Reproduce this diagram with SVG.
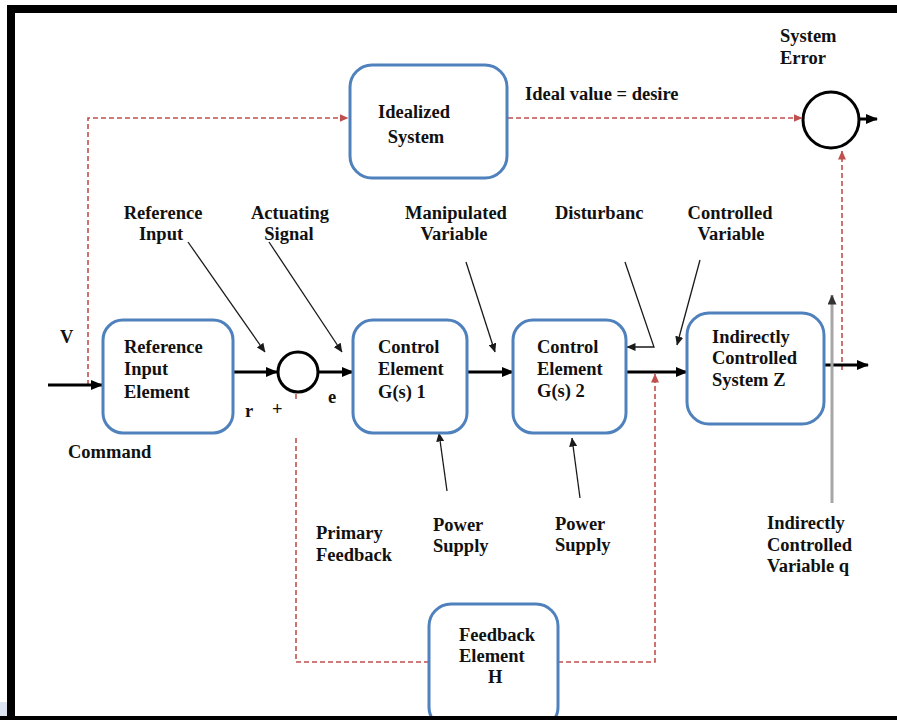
<svg xmlns="http://www.w3.org/2000/svg" width="897" height="720" viewBox="0 0 897 720">
  <defs>
    <style>
      .box { fill: #ffffff; stroke: #4f81bd; stroke-width: 3; }
      .sum { fill: #ffffff; stroke: #000000; stroke-width: 3; }
      .main { fill: none; stroke: #000000; stroke-width: 3; }
      .thin { fill: none; stroke: #1a1a1a; stroke-width: 1.3; }
      .dash { fill: none; stroke: #c0504d; stroke-width: 1.6; stroke-dasharray: 5 3; }
      .grey { fill: none; stroke: #a6a6a6; stroke-width: 3; }
      text { font-weight: bold; font-size: 18.5px; fill: #111111; }
      .mid { text-anchor: middle; }
    </style>
    <marker id="ah" markerUnits="userSpaceOnUse" markerWidth="12" markerHeight="10" refX="11" refY="5" orient="auto">
      <path d="M0,0 L12,5 L0,10 Z" fill="#000000"/>
    </marker>
    <marker id="ahs" markerUnits="userSpaceOnUse" markerWidth="9" markerHeight="8" refX="8.5" refY="4" orient="auto">
      <path d="M0,0 L9,4 L0,8 Z" fill="#1a1a1a"/>
    </marker>
    <marker id="ahr" markerUnits="userSpaceOnUse" markerWidth="9" markerHeight="8" refX="8.5" refY="4" orient="auto">
      <path d="M0,0 L9,4 L0,8 Z" fill="#c0504d"/>
    </marker>
    <marker id="ahg" markerUnits="userSpaceOnUse" markerWidth="10" markerHeight="9" refX="9.5" refY="4.5" orient="auto">
      <path d="M0,0 L10,4.5 L0,9 Z" fill="#333333"/>
    </marker>
  </defs>

  <rect x="0" y="0" width="897" height="720" fill="#ffffff"/>
  <rect x="0" y="702" width="7" height="18" fill="#dce4f4"/>

  <!-- connectors -->
  <g id="connectors">
    <!-- dashed ideal-value path -->
    <path class="dash" d="M88,385 V118 H348" marker-end="url(#ahr)"/>
    <path class="dash" d="M508,118 H802" marker-end="url(#ahr)"/>
    <path class="dash" d="M842,370 V151" marker-end="url(#ahr)"/>
    <!-- primary feedback -->
    <path class="dash" d="M296,394 V399"/>
    <path class="dash" d="M296,438 V662 H429"/>
    <path class="dash" d="M558,662 H655 V374" marker-end="url(#ahr)"/>

    <!-- main forward path -->
    <path class="main" d="M48,385 H102" marker-end="url(#ah)"/>
    <path class="main" d="M233,372 H277" marker-end="url(#ah)"/>
    <path class="main" d="M319,372 H353" marker-end="url(#ah)"/>
    <path class="main" d="M467,372 H513" marker-end="url(#ah)"/>
    <path class="main" d="M626,372 H687" marker-end="url(#ah)"/>
    <path class="main" d="M824,365 H868" marker-end="url(#ah)"/>
    <path class="main" d="M859,119 H877" marker-end="url(#ah)"/>

    <!-- indirectly controlled variable -->
    <path class="grey" d="M832,503 V295" marker-end="url(#ahg)"/>

    <!-- label pointers -->
    <path class="thin" d="M188,242 L265,352" marker-end="url(#ahs)"/>
    <path class="thin" d="M269,242 L342,352" marker-end="url(#ahs)"/>
    <path class="thin" d="M466,262 L495,352" marker-end="url(#ahs)"/>
    <path class="thin" d="M625,262 L654,347 H627" marker-end="url(#ahs)"/>
    <path class="thin" d="M700,260 L677,345" marker-end="url(#ahs)"/>
    <path class="thin" d="M447,491 L439,433" marker-end="url(#ahs)"/>
    <path class="thin" d="M580,498 L572,438" marker-end="url(#ahs)"/>
  </g>

  <g font-family="'Liberation Serif', 'DejaVu Serif', serif">
  <!-- blocks -->
  <g id="idealized-system">
    <rect class="box" x="350" y="65" width="157" height="113" rx="22"/>
    <text x="414" y="118" class="mid">Idealized</text>
    <text x="416" y="143" class="mid">System</text>
  </g>
  <g id="system-error">
    <circle class="sum" cx="831" cy="120" r="28"/>
  </g>
  <g id="reference-input-element">
    <rect class="box" x="103" y="320" width="130" height="113" rx="20"/>
    <text x="124" y="353">Reference</text>
    <text x="124" y="375">Input</text>
    <text x="124" y="398">Element</text>
  </g>
  <g id="summing-point">
    <circle class="sum" cx="298" cy="372" r="20"/>
  </g>
  <g id="control-element-1">
    <rect class="box" x="353" y="320" width="114" height="113" rx="20"/>
    <text x="378" y="353">Control</text>
    <text x="378" y="375">Element</text>
    <text x="378" y="398">G(s) 1</text>
  </g>
  <g id="control-element-2">
    <rect class="box" x="513" y="320" width="113" height="113" rx="20"/>
    <text x="537" y="353">Control</text>
    <text x="537" y="375">Element</text>
    <text x="537" y="397">G(s) 2</text>
  </g>
  <g id="indirectly-controlled-system">
    <rect class="box" x="687" y="313" width="137" height="111" rx="22"/>
    <text x="712" y="343">Indirectly</text>
    <text x="712" y="364">Controlled</text>
    <text x="712" y="386">System Z</text>
  </g>
  <g id="feedback-element">
    <rect class="box" x="429" y="604" width="129" height="125" rx="22"/>
    <text x="459" y="641">Feedback</text>
    <text x="459" y="662">Element</text>
    <text x="488" y="683">H</text>
  </g>

  <!-- signal labels -->
  <g id="labels">
    <text x="525" y="100">Ideal value = desire</text>
    <text x="780" y="42">System</text>
    <text x="780" y="64">Error</text>
    <text x="163" y="219" class="mid">Reference</text>
    <text x="161" y="240" class="mid">Input</text>
    <text x="290" y="219" class="mid">Actuating</text>
    <text x="289" y="240" class="mid">Signal</text>
    <text x="456" y="219" class="mid">Manipulated</text>
    <text x="454" y="240" class="mid">Variable</text>
    <text x="555" y="219">Disturbanc</text>
    <text x="730" y="219" class="mid">Controlled</text>
    <text x="731" y="240" class="mid">Variable</text>
    <text x="60" y="343">V</text>
    <text x="68" y="458">Command</text>
    <text x="245" y="417">r</text>
    <text x="272" y="415">+</text>
    <text x="328" y="403">e</text>
    <text x="316" y="539">Primary</text>
    <text x="316" y="561">Feedback</text>
    <text x="433" y="531">Power</text>
    <text x="433" y="552">Supply</text>
    <text x="555" y="530">Power</text>
    <text x="555" y="551">Supply</text>
    <text x="767" y="529">Indirectly</text>
    <text x="767" y="551">Controlled</text>
    <text x="767" y="572">Variable q</text>
  </g>
  </g>

  <!-- frame -->
  <path d="M11,727 V9 H905" fill="none" stroke="#000000" stroke-width="8"/>
  <rect x="0" y="716" width="897" height="4" fill="#000000"/>
</svg>
